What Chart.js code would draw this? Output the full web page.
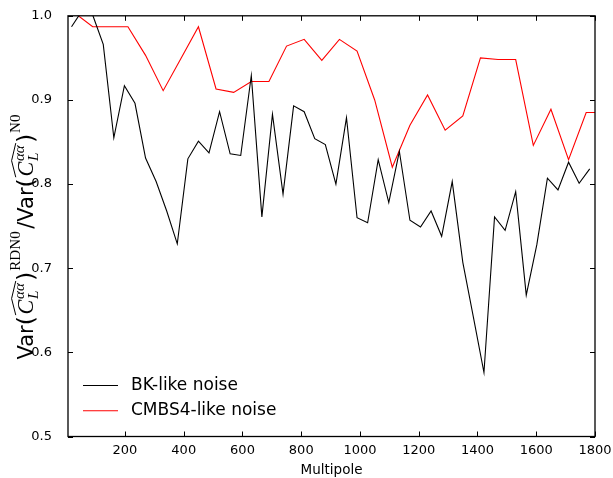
<!DOCTYPE html>
<html>
<head>
<meta charset="utf-8">
<script src="https://cdn.jsdelivr.net/npm/chart.js@4.4.1/dist/chart.umd.min.js"></script>
<style>
  html, body { margin: 0; padding: 0; background: #fff; }
</style>
</head>
<body>
<canvas id="ratioChart" width="613" height="478"></canvas>
<script>
// multipole bin centres and variance ratios
var bkMultipole = [18, 54, 90, 126, 162, 198, 234, 270, 306, 342, 378, 414, 450, 486, 522, 558, 594, 630, 666, 702,
  738, 774, 810, 846, 882, 918, 954, 990, 1026, 1062, 1098, 1134, 1170, 1206, 1242, 1278, 1314, 1350, 1386, 1422,
  1458, 1494, 1530, 1566, 1602, 1638, 1674, 1710, 1746, 1782];
var bkRatio = [0.987, 1.006, 1.001, 0.966, 0.855, 0.917, 0.896, 0.831, 0.803, 0.768, 0.729, 0.830, 0.851, 0.837, 0.886, 0.836, 0.834, 0.929, 0.761, 0.883,
  0.788, 0.893, 0.886, 0.854, 0.847, 0.800, 0.879, 0.760, 0.754, 0.829, 0.778, 0.839, 0.757, 0.749, 0.768, 0.738, 0.803, 0.707, 0.642, 0.576,
  0.761, 0.745, 0.791, 0.668, 0.728, 0.807, 0.793, 0.826, 0.801, 0.818];

var s4Multipole = [30, 90, 150, 210, 270, 330, 390, 450, 510, 570, 630, 690, 750, 810, 870, 930, 990, 1050, 1110, 1170,
  1230, 1290, 1350, 1410, 1470, 1530, 1590, 1650, 1710, 1770, 1830];
var s4Ratio = [1.003, 0.987, 0.987, 0.987, 0.953, 0.911, 0.949, 0.987, 0.913, 0.909, 0.922, 0.922, 0.964, 0.972, 0.947, 0.972, 0.958, 0.900, 0.820, 0.870,
  0.906, 0.864, 0.881, 0.950, 0.948, 0.948, 0.846, 0.889, 0.829, 0.885, 0.885];

var seriesLabels = ['BK-like noise', 'CMBS4-like noise'];
var xTicks = [200, 400, 600, 800, 1000, 1200, 1400, 1600, 1800];
var yTicks = [0.5, 0.6, 0.7, 0.8, 0.9, 1.0];

function toPoints(xs, ys) {
  return xs.map(function (x, i) { return { x: x, y: ys[i] }; });
}

// draws Var(C_L^aa)^RDN0 / Var(C_L^aa)^N0 along a rotated baseline
function runLabel(ctx, S, draw) {
  var sans = S + 'px "DejaVu Sans"';
  var paren = (S * 1.12) + 'px "DejaVu Sans"';
  var it = 'italic ' + (S * 1.05) + 'px "Liberation Serif"';
  var itSm = 'italic ' + (S * 0.72) + 'px "Liberation Serif"';
  var rmSm = (S * 0.72) + 'px "Liberation Serif"';
  var x = 0;
  function txt(t, font, dy) {
    ctx.font = font;
    if (draw) ctx.fillText(t, x, dy);
    return ctx.measureText(t).width;
  }
  function hatted() {
    var x0 = x;
    x += S * 0.08;
    x += txt('C', it, 0) + S * 0.04;
    var ws = txt('αα', itSm, -S * 0.45);
    var wl = txt('L', itSm, S * 0.25);
    x += Math.max(ws, wl) + S * 0.1;
    if (draw) {
      ctx.beginPath();
      ctx.moveTo(x0 + S * 0.05, -S * 0.82);
      ctx.lineTo((x0 + x) / 2, -S * 1.02);
      ctx.lineTo(x, -S * 0.82);
      ctx.stroke();
    }
  }
  x += txt('Var', sans, 0);
  x += txt('(', paren, S * 0.05);
  hatted();
  x += txt(')', paren, S * 0.05) + S * 0.05;
  x += txt('RDN0', rmSm, -S * 0.6) + S * 0.12;
  x += txt('/', sans, 0);
  x += txt('Var', sans, 0);
  x += txt('(', paren, S * 0.05);
  hatted();
  x += txt(')', paren, S * 0.05) + S * 0.05;
  x += txt('N0', rmSm, -S * 0.6);
  return x;
}

var axisDecor = {
  id: 'axisDecor',
  afterDatasetsDraw(chart) {
    const { ctx, chartArea: { top, bottom, left, right } } = chart;
    const xs = chart.scales.x, ys = chart.scales.y;
    ctx.save();

    // inward ticks on all four sides
    ctx.strokeStyle = '#000';
    ctx.lineWidth = 1;
    ctx.beginPath();
    xs.ticks.forEach(function (t) {
      var px = Math.round(xs.getPixelForValue(t.value)) + 0.5;
      ctx.moveTo(px, bottom); ctx.lineTo(px, bottom - 5);
      ctx.moveTo(px, top); ctx.lineTo(px, top + 5);
    });
    ys.ticks.forEach(function (t) {
      var py = Math.round(ys.getPixelForValue(t.value)) + 0.5;
      ctx.moveTo(left, py); ctx.lineTo(left + 5, py);
      ctx.moveTo(right, py); ctx.lineTo(right - 5, py);
    });
    ctx.stroke();

    ctx.lineWidth = 1.3;
    ctx.strokeRect(left, top, right - left, bottom - top);

    // legend, bottom-left inside the axes
    ctx.font = '17px "DejaVu Sans"';
    ctx.textBaseline = 'middle';
    ctx.textAlign = 'left';
    chart.data.datasets.forEach(function (ds, i) {
      var ly = bottom - 51 + i * 25.3;
      ctx.strokeStyle = ds.borderColor;
      ctx.lineWidth = 1.1;
      ctx.beginPath();
      ctx.moveTo(left + 15, ly); ctx.lineTo(left + 50, ly);
      ctx.stroke();
      ctx.fillStyle = '#000';
      ctx.fillText(ds.label, left + 63, ly);
    });

    // x label
    ctx.font = '13.5px "DejaVu Sans"';
    ctx.textAlign = 'center';
    ctx.fillText('Multipole', (left + right) / 2, 470);

    // y label
    ctx.fillStyle = '#000';
    ctx.strokeStyle = '#000';
    ctx.lineWidth = 1;
    ctx.textBaseline = 'alphabetic';
    ctx.textAlign = 'left';
    var S = 21;
    var w = runLabel(ctx, S, false);
    ctx.translate(33, 237);
    ctx.rotate(-Math.PI / 2);
    ctx.translate(-w / 2, 0);
    runLabel(ctx, S, true);

    ctx.restore();
  }
};

var data = {
  datasets: [{
    label: seriesLabels[0],
    data: toPoints(bkMultipole, bkRatio),
    borderColor: '#000000',
    borderWidth: 1.1,
    pointRadius: 0,
    tension: 0,
    fill: false
  }, {
    label: seriesLabels[1],
    data: toPoints(s4Multipole, s4Ratio),
    borderColor: '#ff0000',
    borderWidth: 1.1,
    pointRadius: 0,
    tension: 0,
    fill: false
  }]
};

var config = {
  type: 'line',
  data,
  options: {
    responsive: false,
    animation: false,
    devicePixelRatio: 1,
    layout: { padding: { left: 0, right: 18, top: 14, bottom: 0 } },
    plugins: {
      legend: { display: false },
      tooltip: { enabled: false }
    },
    scales: {
      x: {
        type: 'linear',
        min: 6,
        max: 1800,
        grid: { display: false },
        border: { display: false },
        afterBuildTicks: function (s) { s.ticks = xTicks.map(function (v) { return { value: v }; }); },
        afterFit: function (s) { s.height = 41.5; },
        ticks: {
          padding: -2,
          maxRotation: 0,
          autoSkip: false,
          color: '#000',
          font: { family: 'DejaVu Sans', size: 13 },
          callback: function (v) { return String(v); }
        }
      },
      y: {
        type: 'linear',
        min: 0.5,
        max: 1.0,
        grid: { display: false },
        border: { display: false },
        afterBuildTicks: function (s) { s.ticks = yTicks.map(function (v) { return { value: v }; }); },
        afterFit: function (s) { s.width = 68; },
        ticks: {
          padding: 8,
          color: '#000',
          font: { family: 'DejaVu Sans', size: 13 },
          callback: function (v) { return v.toFixed(1); }
        }
      }
    }
  },
  plugins: [axisDecor]
};

const ratioChart = new Chart(document.getElementById('ratioChart'), config);
</script>
</body>
</html>
